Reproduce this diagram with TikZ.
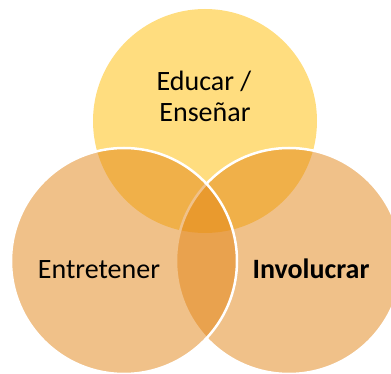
\documentclass[tikz,border=0pt]{standalone}
\usepackage{fontspec}
\setmainfont{Carlito}
\definecolor{topc}{RGB}{255,189,1}
\definecolor{sidec}{RGB}{227,133,21}
\begin{document}
\begin{tikzpicture}[x=1pt,y=-1pt,
  lbl/.style={anchor=base,inner sep=0pt,font=\fontsize{28}{31}\selectfont,text=black},
  topcirc/.style={fill=topc,fill opacity=0.5},
  sidecirc/.style={fill=sidec,fill opacity=0.5,draw=white,line width=2.5pt}]
\useasboundingbox (0,0) rectangle (391,374);
\clip (0,0) rectangle (391,374);
\fill[white] (0,0) rectangle (391,374);
\path[topcirc] (205,121) circle[radius=112];
\path[sidecirc] (289,261) circle[radius=113];
\path[sidecirc] (124,261) circle[radius=113];
\node[lbl] (educar) at (204,91) {Educar /};
\node[lbl] (ensenar) at (205,122) {Enseñar};
\node[lbl] (entretener) at (99,278) {Entretener};
\node[lbl] (involucrar) at (311,278) {\bfseries Involucrar};
\end{tikzpicture}
\end{document}
